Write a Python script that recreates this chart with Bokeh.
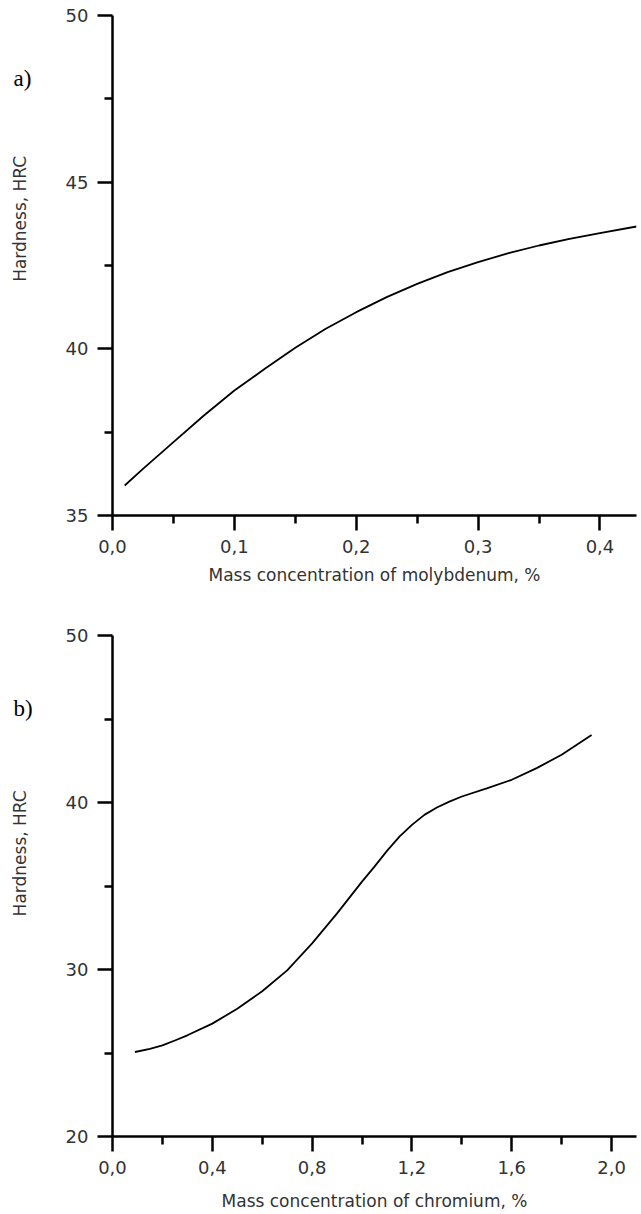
import math
from bokeh.plotting import figure
from bokeh.layouts import column, row
from bokeh.models import FixedTicker, CustomJSTickFormatter, Range1d
from bokeh.core.properties import value
from bokeh.embed import file_html
from bokeh.resources import INLINE

# ---- data ----
mo_x = [0.01, 0.025, 0.05, 0.075, 0.1, 0.125, 0.15, 0.175, 0.2, 0.225, 0.25, 0.275, 0.3,
        0.325, 0.35, 0.375, 0.4, 0.43]
mo_y = [35.9, 36.4, 37.2, 38.0, 38.75, 39.4, 40.03, 40.6, 41.1, 41.55, 41.95, 42.3, 42.6,
        42.87, 43.1, 43.3, 43.47, 43.67]

cr_x = [0.09, 0.15, 0.2, 0.25, 0.3, 0.4, 0.5, 0.6, 0.7, 0.8, 0.9, 1.0, 1.05, 1.1, 1.15, 1.2,
        1.25, 1.3, 1.35, 1.4, 1.5, 1.6, 1.7, 1.8, 1.92]
cr_y = [25.06, 25.25, 25.46, 25.75, 26.06, 26.76, 27.65, 28.7, 29.95, 31.56, 33.36, 35.26,
        36.16, 37.1, 37.96, 38.66, 39.26, 39.7, 40.05, 40.36, 40.85, 41.36, 42.06, 42.86, 44.04]

mo_xticks = [0.0, 0.1, 0.2, 0.3, 0.4]
mo_xminor = [0.05, 0.15, 0.25, 0.35]
mo_yticks = [35, 40, 45, 50]
mo_yminor = [37.5, 42.5, 47.5]

cr_xticks = [0.0, 0.4, 0.8, 1.2, 1.6, 2.0]
cr_xminor = [0.2, 0.6, 1.0, 1.4, 1.8]
cr_yticks = [20, 30, 40, 50]
cr_yminor = [25, 35, 45]

x_title_mo = "Mass concentration of molybdenum, %"
x_title_cr = "Mass concentration of chromium, %"
y_title = "Hardness, HRC"

FONT = "DejaVu Sans"
LABEL_COLOR = "#333333"
STRIP_W = 50


def make_strip(height, tag, tag_y, title_y):
    s = figure(width=STRIP_W, height=height, output_backend="svg", toolbar_location=None,
               x_range=Range1d(0, STRIP_W), y_range=Range1d(0, height),
               x_axis_type=None, y_axis_type=None)
    s.min_border_left = s.min_border_right = s.min_border_top = s.min_border_bottom = 0
    s.outline_line_color = None
    s.xgrid.visible = False
    s.ygrid.visible = False
    s.text(x=[13], y=[tag_y], text=[tag], text_font=value("Liberation Serif"),
           text_font_size=value("23px"), text_color="black",
           text_align="left", text_baseline="middle")
    s.text(x=[19], y=[title_y], text=[y_title], angle=math.pi / 2,
           text_font=value(FONT), text_font_size=value("17px"), text_color=LABEL_COLOR,
           text_align="center", text_baseline="middle")
    return s


def make_panel(xs, ys, xr, yr, xt, xm, yt, ym, xtitle, height, top, bottom, title_standoff):
    p = figure(width=641 - STRIP_W, height=height, output_backend="svg", toolbar_location=None,
               x_range=Range1d(*xr), y_range=Range1d(*yr))
    p.min_border_left = 112 - STRIP_W
    p.min_border_right = 5
    p.min_border_top = top
    p.min_border_bottom = bottom
    p.outline_line_color = None
    p.xgrid.visible = False
    p.ygrid.visible = False

    p.line(xs, ys, line_color="black", line_width=1.8)

    for ax, ticks, minor in ((p.xaxis[0], xt, xm), (p.yaxis[0], yt, ym)):
        ax.ticker = FixedTicker(ticks=ticks, minor_ticks=minor)
        ax.axis_line_color = "black"
        ax.axis_line_width = 2.5
        ax.major_tick_line_color = "black"
        ax.major_tick_line_width = 2.5
        ax.minor_tick_line_color = "black"
        ax.minor_tick_line_width = 2.5
        ax.major_tick_in = 0
        ax.major_tick_out = 15
        ax.minor_tick_in = 0
        ax.minor_tick_out = 8
        ax.major_label_text_font = FONT
        ax.major_label_text_font_size = "18px"
        ax.major_label_text_color = LABEL_COLOR
        ax.major_label_standoff = 9

    p.xaxis[0].formatter = CustomJSTickFormatter(code="return tick.toFixed(1).replace('.', ',');")
    p.yaxis[0].formatter = CustomJSTickFormatter(code="return tick.toFixed(0);")

    p.xaxis[0].axis_label = xtitle
    p.xaxis[0].axis_label_text_font = FONT
    p.xaxis[0].axis_label_text_font_size = "17px"
    p.xaxis[0].axis_label_text_font_style = "normal"
    p.xaxis[0].axis_label_text_color = LABEL_COLOR
    p.xaxis[0].axis_label_standoff = title_standoff
    return p


s1 = make_strip(600, "a)", 600 - 75, 600 - 244)
p1 = make_panel(mo_x, mo_y, (0, 0.43), (35, 50), mo_xticks, mo_xminor, mo_yticks, mo_yminor,
                x_title_mo, 600, 15, 85, 9)
s2 = make_strip(614, "b)", 614 - 89, 614 - 267)
p2 = make_panel(cr_x, cr_y, (0, 2.1), (20, 50), cr_xticks, cr_xminor, cr_yticks, cr_yminor,
                x_title_cr, 614, 35, 78, 14)

layout = column(row(s1, p1, spacing=0), row(s2, p2, spacing=0), spacing=0)
open("out.html", "w").write(file_html(layout, INLINE))
